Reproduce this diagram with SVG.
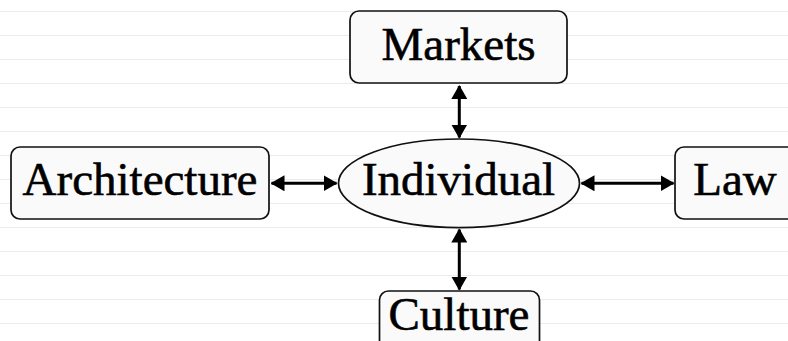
<svg xmlns="http://www.w3.org/2000/svg" width="788" height="341" viewBox="0 0 788 341">
<style>
.bg{stroke:#ebebeb;stroke-width:1}
.node{fill:#fafafa;stroke:#111;stroke-width:1.7}
.lbl{font-family:"Liberation Serif","DejaVu Serif",serif;font-size:47px;fill:#000;stroke:#000;stroke-width:0.6;text-anchor:middle}
.edge{stroke:#000;stroke-width:3;fill:none;marker-start:url(#ah);marker-end:url(#ah)}
</style>
<defs>
<marker id="ah" viewBox="0 0 14 16" refX="13" refY="8" markerWidth="14" markerHeight="16" markerUnits="userSpaceOnUse" orient="auto-start-reverse">
<path d="M0,0 L14,8 L0,16 Z" fill="#000"/>
</marker>
</defs>
<rect width="788" height="341" fill="#fff"/>
<g id="background">
<line class="bg" x1="0" y1="11.5" x2="788" y2="11.5"/>
<line class="bg" x1="0" y1="35.5" x2="788" y2="35.5"/>
<line class="bg" x1="0" y1="59.5" x2="788" y2="59.5"/>
<line class="bg" x1="0" y1="83.5" x2="788" y2="83.5"/>
<line class="bg" x1="0" y1="107.5" x2="788" y2="107.5"/>
<line class="bg" x1="0" y1="131.5" x2="788" y2="131.5"/>
<line class="bg" x1="0" y1="155.5" x2="788" y2="155.5"/>
<line class="bg" x1="0" y1="179.5" x2="788" y2="179.5"/>
<line class="bg" x1="0" y1="203.5" x2="788" y2="203.5"/>
<line class="bg" x1="0" y1="227.5" x2="788" y2="227.5"/>
<line class="bg" x1="0" y1="251.5" x2="788" y2="251.5"/>
<line class="bg" x1="0" y1="275.5" x2="788" y2="275.5"/>
<line class="bg" x1="0" y1="299.5" x2="788" y2="299.5"/>
<line class="bg" x1="0" y1="323.5" x2="788" y2="323.5"/>
</g>
<g id="connectors">
<line class="edge" x1="459.3" y1="86" x2="459.3" y2="137.5"/>
<line class="edge" x1="271.5" y1="183.3" x2="336.5" y2="183.3"/>
<line class="edge" x1="581.5" y1="183.3" x2="673.5" y2="183.3"/>
<line class="edge" x1="459.3" y1="229.5" x2="459.3" y2="289.5"/>
</g>
<g id="markets">
<rect class="node" x="350" y="11" width="217" height="72" rx="9"/>
<text class="lbl" x="458.5" y="59.5">Markets</text>
</g>
<g id="architecture">
<rect class="node" x="11" y="147" width="258" height="72" rx="9"/>
<text class="lbl" x="140" y="195">Architecture</text>
</g>
<g id="individual">
<ellipse class="node" cx="459" cy="183.3" rx="120.5" ry="44.3"/>
<text class="lbl" x="458.5" y="195">Individual</text>
</g>
<g id="law">
<rect class="node" x="675" y="147" width="125" height="72" rx="9"/>
<text class="lbl" x="735" y="195">Law</text>
</g>
<g id="culture">
<rect class="node" x="379.5" y="291" width="160" height="72" rx="9"/>
<text class="lbl" x="459" y="329.5">Culture</text>
</g>
</svg>
